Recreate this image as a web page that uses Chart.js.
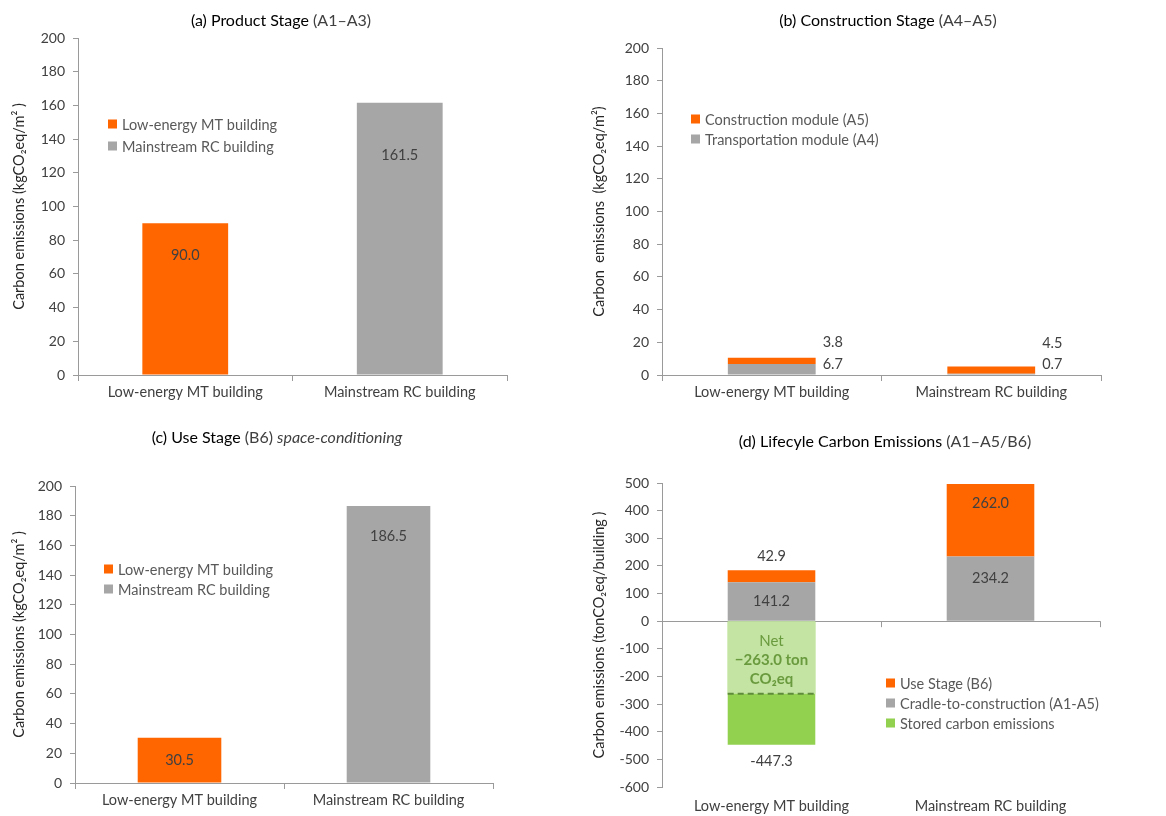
<!DOCTYPE html>
<html>
<head>
<meta charset="utf-8">
<script src="https://cdn.jsdelivr.net/npm/chart.js@4.4.1/dist/chart.umd.min.js"></script>
<style>
body { margin: 0; background: #fff; }
#wrap { position: relative; width: 1166px; height: 816px; }
#wrap canvas { position: absolute; }
</style>
</head>
<body>
<div id="wrap">
  <canvas id="chartA" width="580" height="410" style="left:0;top:0"></canvas>
  <canvas id="chartB" width="586" height="410" style="left:580px;top:0"></canvas>
  <canvas id="chartC" width="580" height="406" style="left:0;top:410px"></canvas>
  <canvas id="chartD" width="586" height="406" style="left:580px;top:410px"></canvas>
</div>
<script>
// Datos
const categories = ['Low-energy MT building', 'Mainstream RC building'];

// (a) Product stage A1-A3, kgCO2eq/m2
const productStage = [90.0, 161.5];

// (b) Construction stage A4-A5, kgCO2eq/m2
const constructionLabels = ['Construction module (A5)', 'Transportation module (A4)'];
const constructionA5 = [3.8, 4.5];
const transportA4 = [6.7, 0.7];

// (c) Use stage B6, kgCO2eq/m2
const useStageB6 = [30.5, 186.5];

// (d) Lifecycle, tonCO2eq/building
const lifecycleLabels = ['Use Stage (B6)', 'Cradle-to-construction (A1-A5)', 'Stored carbon emissions'];
const lifeUse = [42.9, 262.0];
const lifeCradle = [141.2, 234.2];
const lifeStored = [-447.3, null];
const lifeNet = -263.0;

const ORANGE = '#ff6600';
const GRAY = '#a6a6a6';
const GREEN = '#92d050';
const AXIS = '#9a9a9a';
const FONT = 'Lato, "Open Sans", sans-serif';
const TXT = '#404040';

// Titulo con partes de distinto estilo
const panelTitle = {
  id: 'panelTitle',
  afterDraw(chart, args, opts) {
    const ctx = chart.ctx;
    ctx.save();
    ctx.textBaseline = 'middle';
    ctx.textAlign = 'left';
    let total = 0;
    opts.parts.forEach(p => { ctx.font = p.font; total += ctx.measureText(p.text).width; });
    let x = opts.x - total / 2;
    opts.parts.forEach(p => {
      ctx.font = p.font;
      ctx.fillStyle = p.color;
      ctx.fillText(p.text, x, opts.y);
      x += ctx.measureText(p.text).width;
    });
    ctx.restore();
  }
};

// Leyenda dentro del area del grafico
const boxLegend = {
  id: 'boxLegend',
  afterDraw(chart, args, opts) {
    const ctx = chart.ctx;
    ctx.save();
    ctx.font = '14.5px ' + FONT;
    ctx.textBaseline = 'middle';
    ctx.textAlign = 'left';
    opts.items.forEach((it, k) => {
      const y = opts.y + k * opts.rowH;
      ctx.fillStyle = it.color;
      ctx.fillRect(opts.x, y - 4.5, 9, 9);
      ctx.fillStyle = '#595959';
      ctx.fillText(it.text, opts.x + 14, y + 1);
    });
    ctx.restore();
  }
};

// Etiquetas de valores
const valueLabels = {
  id: 'valueLabels',
  afterDatasetsDraw(chart, args, opts) {
    const ctx = chart.ctx;
    ctx.save();
    ctx.font = '14.5px ' + FONT;
    ctx.fillStyle = TXT;
    ctx.textBaseline = 'middle';
    opts.items.forEach(it => {
      const el = chart.getDatasetMeta(it.ds).data[it.i];
      const v = chart.data.datasets[it.ds].data[it.i];
      let x = el.x, y = el.y;
      ctx.textAlign = 'center';
      if (it.anchor === 'center') y = (el.y + el.base) / 2;
      if (it.anchor === 'right') { x = el.x + el.width / 2 + 7; ctx.textAlign = 'left'; }
      ctx.fillText(v.toFixed(1), x, y + (it.dy || 0));
    });
    ctx.restore();
  }
};

// Zona neta en el panel (d)
const netOverlay = {
  id: 'netOverlay',
  afterDatasetsDraw(chart, args, opts) {
    if (!opts.value) return;
    const ctx = chart.ctx;
    const y = chart.scales.y;
    const el = chart.getDatasetMeta(opts.ds).data[opts.i];
    const x0 = el.x - el.width / 2, x1 = el.x + el.width / 2;
    const y0 = y.getPixelForValue(0), yn = y.getPixelForValue(opts.value);
    ctx.save();
    ctx.fillStyle = '#c3e4a2';
    ctx.fillRect(x0, y0, x1 - x0, yn - y0);
    ctx.strokeStyle = '#5f8c3a';
    ctx.lineWidth = 2;
    ctx.setLineDash([6, 4]);
    ctx.beginPath();
    ctx.moveTo(x0, yn);
    ctx.lineTo(x1, yn);
    ctx.stroke();
    ctx.setLineDash([]);
    ctx.fillStyle = '#6a9a3e';
    ctx.textAlign = 'center';
    ctx.textBaseline = 'middle';
    ctx.font = '15px ' + FONT;
    ctx.fillText('Net', el.x, y0 + 20);
    ctx.font = 'bold 15px ' + FONT;
    ctx.fillText('\u2212' + Math.abs(opts.value).toFixed(1) + ' ton', el.x, y0 + 39);
    ctx.fillText('CO\u2082eq', el.x, y0 + 58);
    // marcas en la linea cero
    const xs = chart.scales.x;
    ctx.strokeStyle = AXIS;
    ctx.lineWidth = 1;
    [1, 2].forEach(k => {
      const px = k === 2 ? chart.chartArea.right : (xs.getPixelForValue(0) + xs.getPixelForValue(1)) / 2;
      ctx.beginPath();
      ctx.moveTo(Math.round(px) + 0.5, y0);
      ctx.lineTo(Math.round(px) + 0.5, y0 + 6);
      ctx.stroke();
    });
    ctx.restore();
  }
};

const plugins = [netOverlay, valueLabels, boxLegend, panelTitle];

function titleParts(dark, light, italic) {
  const parts = [
    { text: dark, font: '16px ' + FONT, color: '#000' },
    { text: light, font: '16px ' + FONT, color: '#404040' }
  ];
  if (italic) parts.push({ text: italic, font: 'italic 16px ' + FONT, color: '#404040' });
  return parts;
}

function yScale(min, max, step, width, title, zeroLine) {
  return {
    min: min, max: max,
    stacked: true,
    afterFit: s => { s.width = width; },
    ticks: { stepSize: step, color: TXT, font: { family: FONT, size: 14 }, padding: 8 },
    grid: {
      drawOnChartArea: !!zeroLine,
      color: c => (zeroLine && c.tick && c.tick.value === 0) ? AXIS : 'rgba(0,0,0,0)',
      tickColor: AXIS,
      tickLength: 5
    },
    border: { display: true, color: AXIS },
    title: { display: true, text: title, color: '#262626', font: { family: FONT, size: 14.5 }, padding: { top: 11, bottom: 0 } }
  };
}

function xScale(height, onZero) {
  if (onZero) {
    return {
      stacked: true,
      afterFit: s => { s.height = height; },
      grid: { display: false, drawTicks: false },
      border: { display: false },
      ticks: { color: TXT, font: { family: FONT, size: 14.5 }, padding: 11 }
    };
  }
  return {
    stacked: true,
    afterFit: s => { s.height = height; },
    grid: { drawOnChartArea: false, color: AXIS, tickLength: 6, offset: true },
    border: { color: AXIS },
    ticks: { color: TXT, font: { family: FONT, size: 14.5 }, padding: 3 }
  };
}

function baseOptions(pad, scales, extra) {
  return {
    responsive: false,
    animation: false,
    layout: { padding: pad },
    scales: scales,
    plugins: Object.assign({ legend: { display: false }, tooltip: { enabled: false }, netOverlay: {} }, extra)
  };
}

// (a)
new Chart(document.getElementById('chartA'), {
  type: 'bar',
  data: {
    labels: categories,
    datasets: [{ data: productStage, backgroundColor: [ORANGE, GRAY], barPercentage: 0.4, categoryPercentage: 1 }]
  },
  options: baseOptions({ left: 0, top: 38, right: 73, bottom: 0 }, {
    x: xScale(35),
    y: yScale(0, 200, 20, 78, 'Carbon emissions (kgCO\u2082eq/m\u00b2 )')
  }, {
    panelTitle: { x: 281, y: 21, parts: titleParts('(a) Product Stage', ' (A1\u2013A3)') },
    boxLegend: { x: 108, y: 124, rowH: 22, items: categories.map((c, k) => ({ text: c, color: [ORANGE, GRAY][k] })) },
    valueLabels: { items: [{ ds: 0, i: 0, anchor: 'top', dy: 32 }, { ds: 0, i: 1, anchor: 'top', dy: 52 }] }
  }),
  plugins: plugins
});

// (b)
new Chart(document.getElementById('chartB'), {
  type: 'bar',
  data: {
    labels: categories,
    datasets: [
      { label: constructionLabels[1], data: transportA4, backgroundColor: GRAY, barPercentage: 0.4, categoryPercentage: 1 },
      { label: constructionLabels[0], data: constructionA5, backgroundColor: ORANGE, barPercentage: 0.4, categoryPercentage: 1 }
    ]
  },
  options: baseOptions({ left: 0, top: 48, right: 65, bottom: 0 }, {
    x: xScale(35),
    y: yScale(0, 200, 20, 82, 'Carbon  emissions  (kgCO\u2082eq/m\u00b2)')
  }, {
    panelTitle: { x: 308, y: 21, parts: titleParts('(b) Construction Stage', ' (A4\u2013A5)') },
    boxLegend: { x: 111, y: 119, rowH: 20, items: [{ text: constructionLabels[0], color: ORANGE }, { text: constructionLabels[1], color: GRAY }] },
    valueLabels: { items: [
      { ds: 1, i: 0, anchor: 'right', dy: -16 }, { ds: 0, i: 0, anchor: 'right', dy: 0 },
      { ds: 1, i: 1, anchor: 'right', dy: -23 }, { ds: 0, i: 1, anchor: 'right', dy: -10 }
    ] }
  }),
  plugins: plugins
});

// (c)
new Chart(document.getElementById('chartC'), {
  type: 'bar',
  data: {
    labels: categories,
    datasets: [{ data: useStageB6, backgroundColor: [ORANGE, GRAY], barPercentage: 0.4, categoryPercentage: 1 }]
  },
  options: baseOptions({ left: 0, top: 76, right: 87, bottom: 0 }, {
    x: xScale(33),
    y: yScale(0, 200, 20, 75, 'Carbon emissions (kgCO\u2082eq/m\u00b2 )')
  }, {
    panelTitle: { x: 277, y: 28, parts: titleParts('(c) Use Stage', ' (B6) ', 'space-conditioning') },
    boxLegend: { x: 104, y: 159, rowH: 20, items: categories.map((c, k) => ({ text: c, color: [ORANGE, GRAY][k] })) },
    valueLabels: { items: [{ ds: 0, i: 0, anchor: 'top', dy: 23 }, { ds: 0, i: 1, anchor: 'top', dy: 30 }] }
  }),
  plugins: plugins
});

// (d)
new Chart(document.getElementById('chartD'), {
  type: 'bar',
  data: {
    labels: categories,
    datasets: [
      { label: lifecycleLabels[2], data: lifeStored, backgroundColor: GREEN, barPercentage: 0.4, categoryPercentage: 1 },
      { label: lifecycleLabels[1], data: lifeCradle, backgroundColor: GRAY, barPercentage: 0.4, categoryPercentage: 1 },
      { label: lifecycleLabels[0], data: lifeUse, backgroundColor: ORANGE, barPercentage: 0.4, categoryPercentage: 1 }
    ]
  },
  options: baseOptions({ left: 0, top: 73, right: 66, bottom: 0 }, {
    x: xScale(29, true),
    y: yScale(-600, 500, 100, 82, 'Carbon emissions (tonCO\u2082eq/building )', true)
  }, {
    panelTitle: { x: 305, y: 32, parts: titleParts('(d) Lifecyle Carbon Emissions', ' (A1\u2013A5/B6)') },
    boxLegend: { x: 306, y: 273, rowH: 20, items: [
      { text: lifecycleLabels[0], color: ORANGE }, { text: lifecycleLabels[1], color: GRAY }, { text: lifecycleLabels[2], color: GREEN }
    ] },
    netOverlay: { ds: 0, i: 0, value: lifeNet },
    valueLabels: { items: [
      { ds: 2, i: 0, anchor: 'top', dy: -14 }, { ds: 1, i: 0, anchor: 'center', dy: 0 },
      { ds: 0, i: 0, anchor: 'top', dy: 17 },
      { ds: 2, i: 1, anchor: 'top', dy: 19 }, { ds: 1, i: 1, anchor: 'center', dy: -10 }
    ] }
  }),
  plugins: plugins
});
</script>
</body>
</html>
